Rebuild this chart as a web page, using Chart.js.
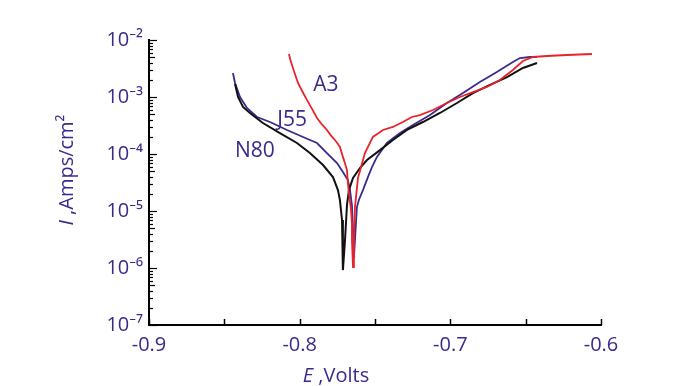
<!DOCTYPE html>
<html><head><meta charset="utf-8">
<script src="https://cdn.jsdelivr.net/npm/chart.js@4.4.0/dist/chart.umd.min.js"></script>
<style>html,body{margin:0;padding:0;background:#fff}</style>
</head><body>
<canvas id="c" width="687" height="386"></canvas>
<script>
// ---- data (E in volts, I in A/cm2) ----
const a3E = [-0.8071,-0.8062,-0.8051,-0.8031,-0.8011,-0.7982,-0.7952,-0.7918,-0.7885,-0.7852,-0.7819,-0.7792,-0.7766,-0.7746,-0.7733,-0.7713,-0.7699,-0.7686,-0.7680,-0.7673,-0.7660,-0.7653,-0.7653,-0.7646,
             -0.7640,-0.7633,-0.7613,-0.7587,-0.7567,-0.7514,-0.7447,-0.7381,-0.7315,-0.7255,-0.7202,-0.7115,-0.7023,-0.6936,-0.6850,-0.6757,-0.6671,-0.6585,-0.6518,-0.6452,-0.6359,-0.6226,-0.6060];
const a3I = [5.68e-3,4.5e-3,3.64e-3,2.5e-3,1.76e-3,1.25e-3,8.9e-4,6.2e-4,4.28e-4,3.3e-4,2.64e-4,2.1e-4,1.76e-4,1.5e-4,1.33e-4,8.9e-5,6.8e-5,5.24e-5,3.10e-5,2.07e-5,1.1e-5,6.16e-6,3.10e-6,1.04e-6,
             3.1e-6,1.17e-5,3.8e-5,6.7e-5,1.04e-4,1.99e-4,2.64e-4,2.98e-4,3.64e-4,4.46e-4,4.83e-4,5.91e-4,7.85e-4,1.0e-3,1.22e-3,1.50e-3,1.99e-3,2.98e-3,4.28e-3,5.03e-3,5.24e-3,5.46e-3,5.68e-3];

const j55E = [-0.8443,-0.8429,-0.8396,-0.8350,-0.8283,-0.8197,-0.8084,-0.7978,-0.7885,-0.7819,-0.7752,-0.7713,-0.7680,-0.7666,-0.7653,-0.7646,-0.7640,
              -0.7633,-0.7620,-0.7607,-0.7580,-0.7547,-0.7520,-0.7487,-0.7421,-0.7334,-0.7248,-0.7135,-0.7023,-0.6916,-0.6804,-0.6691,-0.6585,-0.6538,-0.6472,-0.6425];
const j55I = [2.64e-3,1.76e-3,1.0e-3,6.41e-4,4.46e-4,3.64e-4,2.64e-4,1.99e-4,1.56e-4,1.04e-4,6.95e-5,4.83e-5,3.5e-5,2.33e-5,1.27e-5,4.65e-6,1.5e-6,
              3.1e-6,1.17e-5,1.56e-5,2.33e-5,3.94e-5,5.91e-5,8.9e-5,1.56e-4,2.33e-4,3.23e-4,4.83e-4,7.85e-4,1.17e-3,1.83e-3,2.75e-3,4.11e-3,4.83e-3,5.03e-3,5.03e-3];

const n80E = [-0.8429,-0.8409,-0.8376,-0.8330,-0.8244,-0.8131,-0.8018,-0.7932,-0.7845,-0.7779,-0.7746,-0.7733,-0.7719,-0.7713,-0.7713,
              -0.7699,-0.7686,-0.7673,-0.7646,-0.7600,-0.7553,-0.7467,-0.7381,-0.7288,-0.7182,-0.7069,-0.6956,-0.6850,-0.6737,-0.6624,-0.6518,-0.6425];
const n80I = [1.69e-3,1.0e-3,6.68e-4,5.24e-4,3.5e-4,2.33e-4,1.56e-4,1.04e-4,6.41e-5,3.94e-5,2.33e-5,1.56e-5,6.95e-6,2.54e-6,9.2e-7,
              3.1e-6,1.27e-5,2.33e-5,3.8e-5,5.68e-5,7.85e-5,1.17e-4,1.76e-4,2.64e-4,3.64e-4,5.24e-4,7.85e-4,1.17e-3,1.63e-3,2.24e-3,3.23e-3,3.94e-3];

const xTickValues = [-0.9,-0.85,-0.8,-0.75,-0.7,-0.65,-0.6];
const xTickLabels = ['-0.9','','-0.8','','-0.7','','-0.6'];
const yTickValues = [1e-7,1e-6,1e-5,1e-4,1e-3,1e-2];
const yTickLabels = ['10⁻⁷','10⁻⁶','10⁻⁵','10⁻⁴','10⁻³','10⁻²'];

const curveNames = ['A3','J55','N80'];
const curveNameE = [-0.7826,-0.8050,-0.8297];
const curveNameI = [1.62e-3,4.0e-4,1.12e-4];

const xTitleItalic = 'E', xTitleRest = ' ,Volts';
const yTitleItalic = 'I', yTitleRest = ' ,Amps/cm²';

// ---- styles ----
const PURPLE = '#3b2a8c';
const FONT = '"Open Sans", "Noto Sans", sans-serif';

function pts(E, I){ return E.map((e,i)=>({x:e, y:I[i]})); }

const decorPlugin = {
  id:'decor',
  afterDraw(chart){
    const ctx = chart.ctx, xs = chart.scales.x, ys = chart.scales.y, ca = chart.chartArea;
    ctx.save();
    ctx.strokeStyle = '#000';
    ctx.lineWidth = 1.5;
    xTickValues.forEach(v=>{
      const px = Math.round(xs.getPixelForValue(v))+0.5;
      ctx.beginPath(); ctx.moveTo(px, ca.bottom); ctx.lineTo(px, ca.bottom-6); ctx.stroke();
    });
    ctx.lineWidth = 1.2;
    yTickValues.forEach((d,k)=>{
      const py = Math.round(ys.getPixelForValue(d))+0.5;
      ctx.beginPath(); ctx.moveTo(ca.left, py); ctx.lineTo(ca.left+8, py); ctx.stroke();
      if (k < yTickValues.length-1){
        for (let m=2;m<=9;m++){
          const q = Math.round(ys.getPixelForValue(d*m))+0.5;
          ctx.beginPath(); ctx.moveTo(ca.left, q); ctx.lineTo(ca.left+(m===5?6:4), q); ctx.stroke();
        }
      }
    });
    ctx.fillStyle = PURPLE;
    ctx.font = '21px ' + FONT;
    ctx.textAlign = 'center'; ctx.textBaseline = 'middle';
    curveNames.forEach((n,i)=>{
      ctx.fillText(n, xs.getPixelForValue(curveNameE[i]), ys.getPixelForValue(curveNameI[i]));
    });
    ctx.textBaseline = 'alphabetic'; ctx.textAlign = 'left';
    ctx.font = 'italic 20px ' + FONT;
    const wI = ctx.measureText(xTitleItalic).width;
    ctx.font = '20px ' + FONT;
    const wR = ctx.measureText(xTitleRest).width;
    let x0 = 336 - (wI+wR)/2;
    ctx.font = 'italic 20px ' + FONT; ctx.fillText(xTitleItalic, x0, 382);
    ctx.font = '20px ' + FONT; ctx.fillText(xTitleRest, x0+wI, 382);
    ctx.translate(73, 170);
    ctx.rotate(-Math.PI/2);
    ctx.font = 'italic 20px ' + FONT;
    const yI = ctx.measureText(yTitleItalic).width;
    ctx.font = '20px ' + FONT;
    const yR = ctx.measureText(yTitleRest).width;
    const y0 = -(yI+yR)/2;
    ctx.font = 'italic 20px ' + FONT; ctx.fillText(yTitleItalic, y0, 0);
    ctx.font = '20px ' + FONT; ctx.fillText(yTitleRest, y0+yI, 0);
    ctx.restore();
  }
};

new Chart(document.getElementById('c'), {
  type:'line',
  data:{ datasets:[
    {label:'A3', data:pts(a3E,a3I), borderColor:'#e8232b', borderWidth:1.8, pointRadius:0, tension:0, fill:false},
    {label:'N80', data:pts(n80E,n80I), borderColor:'#111111', borderWidth:2, pointRadius:0, tension:0, fill:false},
    {label:'J55', data:pts(j55E,j55I), borderColor:'#3b2a8c', borderWidth:1.8, pointRadius:0, tension:0, fill:false}
  ]},
  options:{
    responsive:false, animation:false, devicePixelRatio:1,
    layout:{padding:{left:0, right:86, top:40, bottom:0}},
    plugins:{legend:{display:false}, tooltip:{enabled:false}},
    scales:{
      x:{type:'linear', min:-0.9, max:-0.6,
        afterBuildTicks:(s)=>{ s.ticks = xTickValues.map(v=>({value:v})); },
        afterFit:(s)=>{ s.height = 61; },
        grid:{display:false, drawTicks:false},
        border:{display:true, color:'#000', width:2},
        ticks:{autoSkip:false, maxRotation:0, padding:8, color:PURPLE, font:{family:FONT, size:20},
          callback:(v,i)=>xTickLabels[i]}
      },
      y:{type:'logarithmic', min:1e-7, max:1e-2,
        afterBuildTicks:(s)=>{ s.ticks = yTickValues.map(v=>({value:v, major:true})); },
        afterFit:(s)=>{ s.width = 149; },
        grid:{display:false, drawTicks:false},
        border:{display:true, color:'#000', width:2},
        ticks:{autoSkip:false, padding:6, color:PURPLE, font:{family:FONT, size:20},
          callback:(v,i)=>yTickLabels[i]}
      }
    }
  },
  plugins:[decorPlugin]
});
</script>
</body></html>
